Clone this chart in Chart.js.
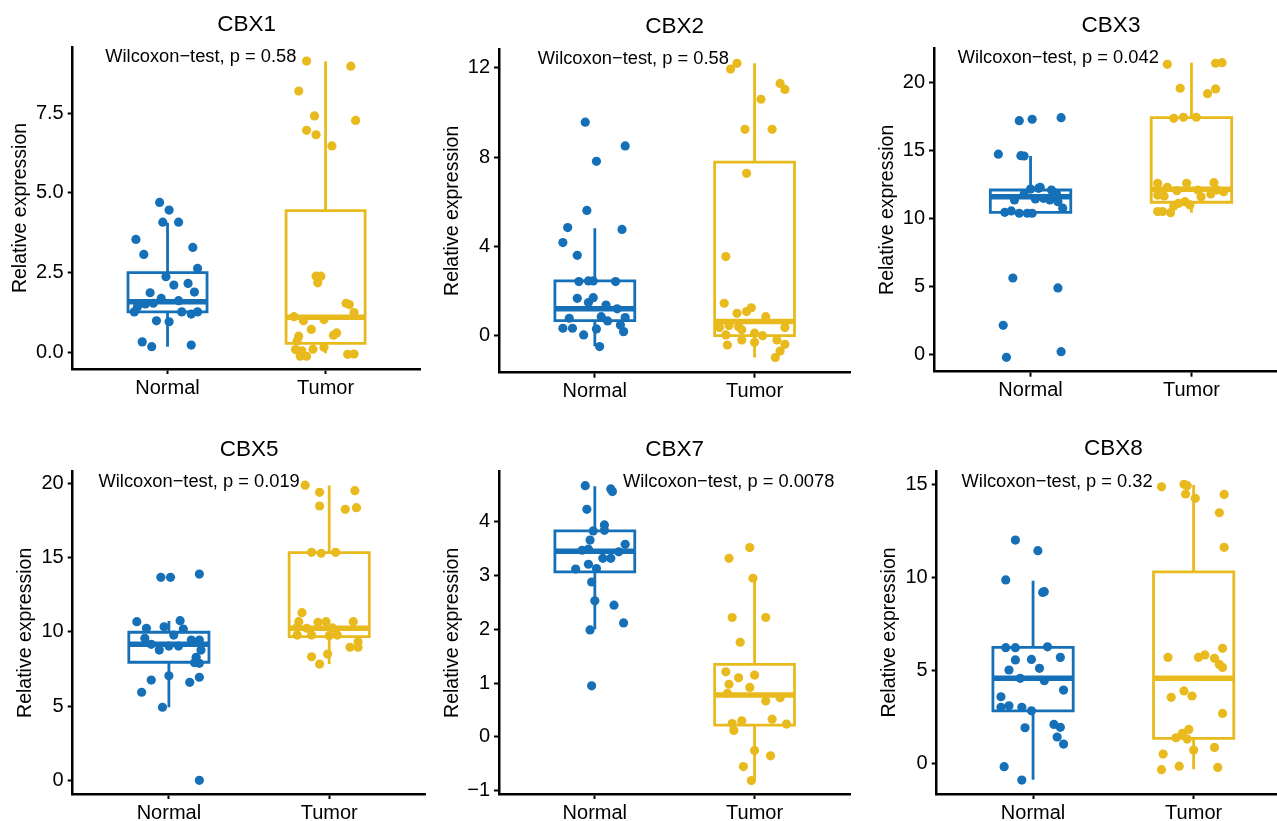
<!DOCTYPE html>
<html>
<head>
<meta charset="utf-8">
<script src="https://cdn.jsdelivr.net/npm/chart.js@4.4.1/dist/chart.umd.min.js"></script>
<style>
  html, body { margin: 0; padding: 0; background: #fff; overflow: hidden; }
  body { width: 1277px; height: 821px; position: relative; }
  canvas { position: absolute; }
</style>
</head>
<body>
<script>
// boxplot + jitter panels, one chart per gene

const genes = ['CBX1', 'CBX2', 'CBX3', 'CBX5', 'CBX7', 'CBX8'];
const groups = ['Normal', 'Tumor'];
const groupColors = ['#1570B8', '#E9BA1E'];
const pLabels = [
    'Wilcoxon\u2212test, p = 0.58',
    'Wilcoxon\u2212test, p = 0.58',
    'Wilcoxon\u2212test, p = 0.042',
    'Wilcoxon\u2212test, p = 0.019',
    'Wilcoxon\u2212test, p = 0.0078',
    'Wilcoxon\u2212test, p = 0.32'
];
// where ggpubr put the p label (data units: x, y)
const pLabelX = [0.606, 0.643, 0.547, 0.561, 1.176, 0.555];
const pLabelY = [9.32, 12.47, 21.88, 20.22, 4.77, 15.26];

// y axis ranges and ticks
const yMin = [-0.52, -1.66, -1.28, -0.92, -1.06, -1.65];
const yMax = [9.57, 12.84, 22.52, 20.78, 4.93, 15.75];
const yTicks = [
    [0, 2.5, 5, 7.5],
    [0, 4, 8, 12],
    [0, 5, 10, 15, 20],
    [0, 5, 10, 15, 20],
    [-1, 0, 1, 2, 3, 4],
    [0, 5, 10, 15]
];
const yTickLabels = [
    ['0.0', '2.5', '5.0', '7.5'],
    ['0', '4', '8', '12'],
    ['0', '5', '10', '15', '20'],
    ['0', '5', '10', '15', '20'],
    ['\u22121', '0', '1', '2', '3', '4'],
    ['0', '5', '10', '15']
];

// box stats: [lower whisker, q1, median, q3, upper whisker]
const cbx1Box = [[0.18, 1.27, 1.59, 2.50, 4.06], [-0.03, 0.28, 1.10, 4.44, 9.12]];
const cbx2Box = [[-0.47, 0.67, 1.20, 2.45, 4.81], [-0.98, 0.00, 0.63, 7.77, 12.20]];
const cbx3Box = [[10.37, 10.44, 11.59, 12.08, 14.58], [10.41, 11.18, 12.13, 17.40, 21.44]];
const cbx5Box = [[4.92, 7.95, 9.16, 9.97, 10.72], [7.83, 9.67, 10.24, 15.33, 19.85]];
const cbx7Box = [[2.00, 3.07, 3.45, 3.83, 4.66], [-0.81, 0.22, 0.78, 1.35, 2.95]];
const cbx8Box = [[-0.88, 2.83, 4.58, 6.25, 9.84], [-0.31, 1.35, 4.58, 10.32, 14.99]];

// jittered points: [x position, value]
const cbx1Normal = [[0.95,4.70],[1.01,4.46],[0.97,4.08],[1.07,4.08],[0.80,3.54],[0.85,3.07],[1.16,3.29],[1.19,2.63],[0.99,2.37],[1.04,2.11],[1.13,2.16],[0.89,1.87],[1.17,1.89],[0.96,1.69],[1.07,1.62],[0.81,1.43],[0.91,1.54],[0.86,1.52],[0.79,1.27],[1.09,1.27],[1.15,1.20],[1.19,1.27],[0.93,0.99],[1.01,0.96],[0.84,0.33],[0.90,0.18],[1.15,0.23]];
const cbx1Tumor = [[1.88,9.13],[2.16,8.97],[1.83,8.19],[1.93,7.41],[2.19,7.27],[1.88,6.96],[1.94,6.82],[2.04,6.47],[1.94,2.39],[1.97,2.39],[1.95,2.18],[2.13,1.54],[2.15,1.50],[2.18,1.25],[1.80,1.12],[1.86,0.99],[1.99,1.03],[1.91,0.72],[1.83,0.51],[2.05,0.54],[2.07,0.61],[1.82,0.36],[1.81,0.09],[1.85,0.05],[1.92,0.10],[1.99,0.16],[1.84,-0.12],[1.88,-0.12],[2.14,-0.06],[2.18,-0.05]];
const cbx2Normal = [[0.94,9.56],[1.19,8.50],[1.01,7.81],[0.95,5.61],[0.83,4.84],[1.17,4.76],[0.80,4.17],[0.89,3.60],[0.90,2.42],[0.96,2.45],[0.99,2.45],[1.13,2.42],[0.89,1.67],[0.96,1.48],[0.99,1.70],[1.07,1.37],[1.14,1.20],[0.84,0.78],[1.04,0.85],[1.08,0.66],[1.19,0.81],[1.16,0.48],[0.80,0.33],[0.86,0.33],[1.01,0.30],[1.18,0.18],[0.93,0.03],[1.03,-0.49]];
const cbx2Tumor = [[1.85,11.94],[1.89,12.20],[2.16,11.30],[2.19,11.03],[2.04,10.59],[1.94,9.24],[2.11,9.24],[1.95,7.27],[1.82,3.54],[1.81,1.45],[1.89,1.00],[1.95,1.08],[1.98,1.25],[2.07,0.85],[1.78,0.36],[1.84,0.45],[1.90,0.40],[1.92,0.26],[2.19,0.36],[1.82,0.03],[1.92,-0.19],[2.00,0.11],[2.05,0.00],[2.14,-0.19],[2.19,-0.39],[1.83,-0.42],[2.00,-0.30],[2.16,-0.69],[2.13,-0.98]];
const cbx3Normal = [[0.93,17.18],[1.01,17.28],[1.19,17.40],[0.80,14.71],[0.94,14.60],[0.96,14.58],[0.89,5.61],[1.17,4.88],[0.83,2.13],[1.19,0.19],[0.85,-0.22],[1.05,12.20],[1.13,12.08],[1.00,12.15],[0.96,11.76],[0.90,11.35],[1.03,11.42],[1.08,11.47],[1.12,11.35],[1.17,11.22],[1.20,10.74],[0.84,10.44],[0.88,10.54],[0.93,10.37],[0.98,10.37],[1.01,10.37],[1.06,12.28],[1.16,11.84]];
const cbx3Tumor = [[1.85,21.32],[2.15,21.40],[2.19,21.44],[1.93,19.56],[2.15,19.51],[2.10,19.16],[1.89,17.35],[1.95,17.43],[2.03,17.43],[1.79,12.57],[1.85,12.28],[1.97,12.57],[2.14,12.62],[1.91,12.03],[2.04,12.08],[2.16,12.08],[2.20,11.96],[1.79,11.71],[1.83,11.64],[2.12,11.79],[1.92,11.10],[1.96,11.22],[1.99,10.98],[1.89,10.90],[1.79,10.49],[1.82,10.49],[1.87,10.41],[2.06,11.59]];
const cbx5Normal = [[1.19,13.89],[0.95,13.67],[1.01,13.67],[0.80,10.68],[1.07,10.75],[0.86,10.24],[0.97,10.34],[1.09,10.19],[1.03,9.78],[0.85,9.56],[1.14,9.45],[1.19,9.45],[0.89,9.16],[0.94,8.77],[1.00,9.04],[1.06,9.04],[1.20,8.77],[1.17,8.28],[1.16,7.92],[1.19,7.88],[1.00,7.04],[1.19,6.94],[0.89,6.75],[1.13,6.60],[0.83,5.93],[0.96,4.92],[1.19,0.00]];
const cbx5Tumor = [[1.85,19.87],[1.94,19.39],[2.16,19.50],[1.94,18.47],[2.10,18.25],[2.17,18.36],[1.89,15.35],[1.95,15.29],[2.04,15.35],[1.83,11.29],[1.81,10.68],[1.93,10.64],[1.98,10.68],[2.15,10.68],[1.80,10.30],[1.86,10.24],[2.02,10.26],[1.80,9.78],[1.89,9.78],[2.00,9.74],[2.05,9.78],[2.18,9.33],[2.13,8.96],[2.18,8.96],[1.89,8.32],[1.99,8.50],[1.94,7.83]];
const cbx7Normal = [[0.94,4.67],[1.10,4.61],[1.11,4.56],[0.95,4.23],[1.06,3.94],[0.99,3.83],[1.06,3.84],[0.97,3.66],[1.19,3.58],[0.92,3.47],[0.96,3.49],[1.15,3.44],[1.05,3.32],[1.10,3.32],[0.96,3.21],[0.88,3.12],[1.01,3.13],[0.98,2.88],[1.00,2.53],[1.12,2.45],[1.18,2.12],[0.97,1.99],[0.98,0.95]];
const cbx7Tumor = [[1.97,3.52],[1.84,3.32],[1.99,2.95],[1.86,2.22],[2.07,2.22],[1.91,1.76],[1.82,1.21],[2.00,1.15],[1.90,1.10],[1.84,0.98],[1.97,0.92],[1.83,0.81],[2.07,0.67],[2.16,0.73],[1.92,0.30],[1.86,0.25],[2.11,0.33],[2.20,0.24],[1.87,0.12],[2.00,-0.25],[2.10,-0.35],[1.93,-0.55],[1.98,-0.81]];
const cbx8Normal = [[0.89,12.03],[1.03,11.46],[0.83,9.88],[1.06,9.21],[1.07,9.25],[0.83,6.23],[0.89,6.23],[1.09,6.28],[0.89,5.57],[0.99,5.60],[1.17,5.71],[0.85,5.03],[1.04,5.12],[0.92,4.58],[1.07,4.45],[1.19,3.95],[0.80,3.59],[0.80,3.02],[0.85,3.10],[0.93,3.02],[0.99,2.83],[1.13,2.10],[1.17,1.94],[0.95,1.92],[1.15,1.42],[1.19,1.04],[0.82,-0.18],[0.93,-0.90]];
const cbx8Tumor = [[1.80,14.90],[1.94,15.03],[1.96,14.96],[1.95,14.51],[2.01,14.28],[2.19,14.49],[2.16,13.50],[2.19,11.64],[2.18,6.20],[1.84,5.71],[2.03,5.71],[2.07,5.84],[2.13,5.66],[2.16,5.33],[2.18,5.17],[1.94,3.90],[1.99,3.63],[1.86,3.56],[2.18,2.69],[1.97,1.83],[1.93,1.62],[1.89,1.38],[1.96,1.31],[2.13,0.86],[2.00,0.72],[1.81,0.50],[1.91,-0.15],[2.15,-0.22],[1.80,-0.34]];

const geneBoxes = [cbx1Box, cbx2Box, cbx3Box, cbx5Box, cbx7Box, cbx8Box];
const genePoints = [
    [cbx1Normal, cbx1Tumor], [cbx2Normal, cbx2Tumor], [cbx3Normal, cbx3Tumor],
    [cbx5Normal, cbx5Tumor], [cbx7Normal, cbx7Tumor], [cbx8Normal, cbx8Tumor]
];

// canvas box (x,y,w,h), plot area (l,t,r,b), centre of y title (yt)
const panels = [
    {x: 0,   y: 0,   w: 425, h: 415, l: 72.7,  t: 47,    r: 422,    b: 369,   yt: 20.8},
    {x: 425, y: 0,   w: 430, h: 415, l: 499,   t: 49,    r: 853.3,  b: 372.7, yt: 452.3},
    {x: 855, y: 0,   w: 440, h: 415, l: 934,   t: 48,    r: 1288,   b: 371.7, yt: 887.5},
    {x: 0,   y: 415, w: 430, h: 406, l: 72.7,  t: 471.7, r: 427,    b: 794,   yt: 25.8},
    {x: 425, y: 415, w: 430, h: 406, l: 499,   t: 471.7, r: 853.3,  b: 794,   yt: 452.5},
    {x: 855, y: 415, w: 440, h: 406, l: 936.7, t: 471,   r: 1290,   b: 794,   yt: 889.7}
];

const FONT = '"Liberation Sans", Arial, Helvetica, sans-serif';
Chart.defaults.font.family = FONT;
Chart.defaults.color = '#000';

const BOX_LW = 2.8;
const MEDIAN_LW = 5.5;
const TICK_FS = 20;
const TITLE_FS = 19.5;

function lineSet(pts, color, width) {
    return {
        data: pts.map(p => ({x: p[0], y: p[1]})),
        showLine: true,
        borderColor: color,
        borderWidth: width,
        borderCapStyle: 'square',
        borderJoinStyle: 'miter',
        pointRadius: 0,
        fill: false
    };
}

function boxSets(stats, g, color) {
    const [lo, q1, med, q3, hi] = stats;
    const hw = 0.25;
    return [
        lineSet([[g - hw, q1], [g + hw, q1], [g + hw, q3], [g - hw, q3], [g - hw, q1]], color, BOX_LW),
        Object.assign(lineSet([[g - hw, med], [g + hw, med]], color, MEDIAN_LW), {borderCapStyle: 'butt'}),
        Object.assign(lineSet([[g, q3], [g, hi]], color, BOX_LW), {borderCapStyle: 'butt'}),
        Object.assign(lineSet([[g, lo], [g, q1]], color, BOX_LW), {borderCapStyle: 'butt'})
    ];
}

// title over the panel and the p-value label
const panelText = {
    id: 'panelText',
    afterDraw(chart, args, opts) {
        const {ctx, chartArea, scales} = chart;
        ctx.save();
        ctx.fillStyle = '#000';
        ctx.textBaseline = 'alphabetic';
        ctx.textAlign = 'center';
        ctx.font = '22.5px ' + FONT;
        ctx.fillText(opts.title, (chartArea.left + chartArea.right) / 2, chartArea.top - 15.6);
        ctx.textAlign = 'left';
        ctx.font = '18.3px ' + FONT;
        const px = scales.x.getPixelForValue(opts.px);
        const py = scales.y.getPixelForValue(opts.py);
        ctx.fillText(opts.label, px, py + 0.358 * 18.3);
        ctx.restore();
    }
};

genes.forEach((gene, i) => {
    const p = panels[i];
    const canvas = document.createElement('canvas');
    canvas.width = p.w;
    canvas.height = p.h;
    canvas.style.left = p.x + 'px';
    canvas.style.top = p.y + 'px';
    canvas.style.width = p.w + 'px';
    canvas.style.height = p.h + 'px';
    document.body.appendChild(canvas);

    const datasets = [];
    groups.forEach((g, gi) => {
        datasets.push({
            data: genePoints[i][gi].map(d => ({x: d[0], y: d[1]})),
            pointRadius: 4.6,
            pointBorderWidth: 0,
            pointBackgroundColor: groupColors[gi],
            showLine: false
        });
    });
    groups.forEach((g, gi) => {
        datasets.push(...boxSets(geneBoxes[i][gi], gi + 1, groupColors[gi]));
    });

    const xHeight = p.y + p.h - p.b;
    const yWidth = p.l - p.x;

    new Chart(canvas, {
        type: 'scatter',
        data: {datasets: datasets},
        options: {
            responsive: false,
            animation: false,
            events: [],
            layout: {
                padding: {left: 0, top: p.t - p.y, right: p.x + p.w - p.r, bottom: 0}
            },
            plugins: {
                legend: {display: false},
                tooltip: {enabled: false},
                panelText: {title: gene, label: pLabels[i], px: pLabelX[i], py: pLabelY[i]}
            },
            scales: {
                x: {
                    type: 'linear',
                    min: 0.4,
                    max: 2.6,
                    afterBuildTicks: axis => { axis.ticks = groups.map((g, k) => ({value: k + 1})); },
                    afterFit: axis => { axis.height = xHeight; },
                    ticks: {
                        callback: v => groups[Math.round(v) - 1],
                        font: {size: TICK_FS},
                        color: '#000',
                        padding: 2,
                        maxRotation: 0,
                        autoSkip: false
                    },
                    grid: {drawOnChartArea: false, drawTicks: true, tickLength: 5, tickColor: '#000', tickWidth: 2},
                    border: {display: true, color: '#000', width: 2.5}
                },
                y: {
                    type: 'linear',
                    min: yMin[i],
                    max: yMax[i],
                    afterBuildTicks: axis => { axis.ticks = yTicks[i].map(v => ({value: v})); },
                    afterFit: axis => { axis.width = yWidth; },
                    ticks: {
                        callback: (v, k) => yTickLabels[i][k],
                        font: {size: TICK_FS},
                        color: '#000',
                        padding: 4,
                        autoSkip: false
                    },
                    title: {
                        display: true,
                        text: 'Relative expression',
                        font: {size: TITLE_FS},
                        color: '#000',
                        padding: {top: p.yt - p.x - TITLE_FS * 1.2 / 2, bottom: 0}
                    },
                    grid: {drawOnChartArea: false, drawTicks: true, tickLength: 5, tickColor: '#000', tickWidth: 2},
                    border: {display: true, color: '#000', width: 2.5}
                }
            }
        },
        plugins: [panelText]
    });
});
</script>
</body>
</html>
